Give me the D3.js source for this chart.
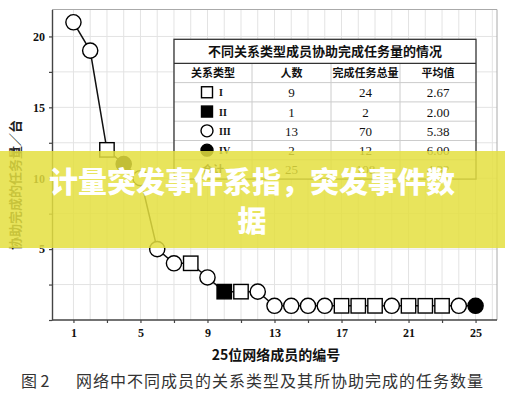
<!DOCTYPE html>
<html>
<head>
<meta charset="utf-8">
<script src="https://cdn.jsdelivr.net/npm/d3@7"></script>
<style>
  html, body { margin: 0; padding: 0; background: #fff; }
  svg { display: block; }
</style>
</head>
<body>
<div id="chart"></div>
<script>
// member ids and the number of tasks each one helped to finish
const memberIds = [1, 2, 3, 4, 5, 6, 7, 8, 9, 10, 11, 12, 13, 14, 15, 16, 17, 18, 19, 20, 21, 22, 23, 24, 25];
const taskCounts = [21, 19, 12, 11, 10, 5, 4, 4, 3, 2, 2, 2, 1, 1, 1, 1, 1, 1, 1, 1, 1, 1, 1, 1, 1];
const relationTypes = ["III", "III", "I", "IV", "III", "III", "III", "I", "III", "II", "I", "III", "III",
    "III", "III", "III", "I", "I", "I", "III", "I", "I", "I", "III", "IV"];

// summary table
const tableTitle = "不同关系类型成员协助完成任务量的情况";
const tableHeader = ["关系类型", "人数", "完成任务总量", "平均值"];
const typeLabels = ["I", "II", "III", "IV"];
const typeCounts = [9, 1, 13, 2];
const typeTotals = [24, 2, 70, 12];
const typeMeans = ["2.67", "2.00", "5.38", "6.00"];
const totalRow = ["合计", "25", "108", "4.32"];

const xTickLabels = [1, 5, 9, 13, 17, 21, 25];
const yTickLabels = [5, 10, 15, 20];

const width = 505;
const height = 400;

const svg = d3.select("#chart").append("svg")
    .attr("width", width)
    .attr("height", height);

const x = d3.scaleLinear().domain([-0.28, 26.28]).range([52, 497]);
const y = d3.scaleLinear().domain([0, 21.9]).range([320, 9.5]);

// grid
const grid = svg.append("g").attr("class", "grid");
grid.selectAll(".vg")
    .data(d3.range(1, 27))
    .enter().append("line")
    .attr("x1", d => x(d)).attr("x2", d => x(d))
    .attr("y1", y.range()[1]).attr("y2", y.range()[0])
    .attr("stroke", "#e3e3e3").attr("stroke-width", 1);
grid.selectAll(".hg")
    .data(d3.range(2.5, 21, 2.5))
    .enter().append("line")
    .attr("x1", x.range()[0]).attr("x2", x.range()[1])
    .attr("y1", d => y(d)).attr("y2", d => y(d))
    .attr("stroke", "#e3e3e3").attr("stroke-width", 1);

// frame (top / right lighter)
svg.append("line")
    .attr("x1", x.range()[0]).attr("x2", x.range()[1])
    .attr("y1", y.range()[1]).attr("y2", y.range()[1])
    .attr("stroke", "#aaa");
svg.append("line")
    .attr("x1", x.range()[1]).attr("x2", x.range()[1])
    .attr("y1", y.range()[1]).attr("y2", y.range()[0])
    .attr("stroke", "#aaa");

// axes
const xAxis = d3.axisBottom(x)
    .tickValues(d3.range(1, 26, 2))
    .tickFormat(d => xTickLabels.includes(d) ? d : "")
    .tickSize(3).tickSizeOuter(0).tickPadding(5);
const yAxis = d3.axisLeft(y)
    .tickValues(d3.range(0, 21, 2.5))
    .tickFormat(d => yTickLabels.includes(d) ? d : "")
    .tickSize(3).tickSizeOuter(0).tickPadding(4);

const gx = svg.append("g").attr("transform", `translate(0,${y.range()[0]})`).call(xAxis);
const gy = svg.append("g").attr("transform", `translate(${x.range()[0]},0)`).call(yAxis);
[gx, gy].forEach(g => {
    g.select(".domain").attr("stroke", "#444").attr("stroke-width", 1.4);
    g.selectAll(".tick line").attr("stroke", "#444").attr("stroke-width", 1.2);
    g.selectAll(".tick text")
        .attr("fill", "#111")
        .style("font-family", "'Liberation Serif', serif")
        .style("font-weight", "bold")
        .style("font-size", "12px");
});
gx.select(".domain").attr("d", `M${x.range()[0]},0H${x.range()[1]}`);

// axis titles
svg.append("text")
    .attr("x", 276).attr("y", 360)
    .attr("text-anchor", "middle")
    .style("font-family", "'Noto Sans CJK SC', sans-serif")
    .style("font-weight", "bold")
    .style("font-size", "14px")
    .attr("fill", "#111")
    .text("25位网络成员的编号");

svg.append("text")
    .attr("transform", "translate(20,185) rotate(-90)")
    .attr("text-anchor", "middle")
    .style("font-family", "'Noto Sans CJK SC', sans-serif")
    .style("font-weight", "bold")
    .style("font-size", "13px")
    .attr("fill", "#222")
    .text("协助完成的任务量／台");

// line
const points = memberIds.map((id, i) => ({ id: id, value: taskCounts[i], type: relationTypes[i] }));

svg.append("path")
    .datum(points)
    .attr("fill", "none")
    .attr("stroke", "#111")
    .attr("stroke-width", 1.5)
    .attr("d", d3.line().x(d => x(d.id)).y(d => y(d.value)));

function drawMarker(g, type, size) {
    const filled = type === "II" || type === "IV";
    const square = type === "I" || type === "II";
    if (square) {
        g.append("rect")
            .attr("x", -size).attr("y", -size)
            .attr("width", size * 2).attr("height", size * 2);
    } else {
        g.append("circle").attr("r", size);
    }
    g.selectAll("rect, circle")
        .attr("fill", filled ? "#000" : "#fff")
        .attr("stroke", "#000")
        .attr("stroke-width", 1.4);
}

svg.selectAll(".marker")
    .data(points)
    .enter().append("g")
    .attr("class", "marker")
    .attr("transform", d => `translate(${x(d.id)},${y(d.value)})`)
    .each(function(d) {
        drawMarker(d3.select(this), d.type, d.type === "I" || d.type === "II" ? 7.2 : 7.6);
    });

// table
const colX = [174, 252, 331, 400, 476];
const titleTop = 39.3;
const headTop = 63.3;
const rowH = 19.3;
const tableBottom = headTop + rowH * 6;
const tbl = svg.append("g").attr("class", "table");

tbl.append("rect")
    .attr("x", colX[0]).attr("y", titleTop)
    .attr("width", colX[4] - colX[0]).attr("height", tableBottom - titleTop)
    .attr("fill", "#fff");

// inner lines
for (let r = 1; r < 6; r++) {
    tbl.append("line")
        .attr("x1", colX[0]).attr("x2", colX[4])
        .attr("y1", headTop + rowH * r).attr("y2", headTop + rowH * r)
        .attr("stroke", "#ccc");
}
for (let c = 1; c < 4; c++) {
    tbl.append("line")
        .attr("x1", colX[c]).attr("x2", colX[c])
        .attr("y1", headTop).attr("y2", tableBottom)
        .attr("stroke", "#ccc");
}
tbl.append("line")
    .attr("x1", colX[0]).attr("x2", colX[4])
    .attr("y1", headTop).attr("y2", headTop)
    .attr("stroke", "#333").attr("stroke-width", 1.3);
tbl.append("rect")
    .attr("x", colX[0]).attr("y", titleTop)
    .attr("width", colX[4] - colX[0]).attr("height", tableBottom - titleTop)
    .attr("fill", "none").attr("stroke", "#333").attr("stroke-width", 1.3);

tbl.append("text")
    .attr("x", (colX[0] + colX[4]) / 2).attr("y", (titleTop + headTop) / 2 + 5)
    .attr("text-anchor", "middle")
    .style("font-family", "'Noto Sans CJK SC', sans-serif")
    .style("font-weight", "bold")
    .style("font-size", "13px")
    .attr("fill", "#111")
    .text(tableTitle);

const colMid = c => (colX[c] + colX[c + 1]) / 2;
const rowMid = r => headTop + rowH * r + rowH / 2;

tbl.selectAll(".th")
    .data(tableHeader)
    .enter().append("text")
    .attr("x", (d, i) => colMid(i)).attr("y", rowMid(0) + 4)
    .attr("text-anchor", "middle")
    .style("font-family", "'Noto Sans CJK SC', sans-serif")
    .style("font-weight", "bold")
    .style("font-size", "11px")
    .attr("fill", "#111")
    .text(d => d);

const numStyle = sel => sel
    .attr("text-anchor", "middle")
    .style("font-family", "'Liberation Serif', serif")
    .style("font-size", "13px")
    .attr("fill", "#111");

typeLabels.forEach((t, i) => {
    const cy = rowMid(i + 1);
    const mk = tbl.append("g").attr("transform", `translate(207,${cy})`);
    drawMarker(mk, t, t === "I" || t === "II" ? 5.5 : 6);
    tbl.append("text")
        .attr("x", 219).attr("y", cy + 4)
        .style("font-family", "'Liberation Serif', serif")
        .style("font-weight", "bold")
        .style("font-size", "10px")
        .attr("fill", "#111")
        .text(t);
    tbl.append("text").attr("x", colMid(1)).attr("y", cy + 5).call(numStyle).text(typeCounts[i]);
    tbl.append("text").attr("x", colMid(2)).attr("y", cy + 5).call(numStyle).text(typeTotals[i]);
    tbl.append("text").attr("x", colMid(3)).attr("y", cy + 5).call(numStyle).text(typeMeans[i]);
});

totalRow.forEach((v, c) => {
    const t = tbl.append("text").attr("x", colMid(c)).attr("y", rowMid(5) + 5).call(numStyle).text(v);
    if (c === 0) t.style("font-family", "'Noto Sans CJK SC', sans-serif").style("font-size", "11px").style("font-weight", "bold");
});

// caption
svg.append("text")
    .attr("x", 21).attr("y", 387)
    .style("font-family", "'Noto Sans CJK SC', sans-serif")
    .style("font-size", "16px")
    .attr("fill", "#333")
    .text("图 2");
svg.append("text")
    .attr("x", 76).attr("y", 387)
    .attr("textLength", 407)
    .style("font-family", "'Noto Sans CJK SC', sans-serif")
    .style("font-size", "16px")
    .attr("fill", "#333")
    .text("网络中不同成员的关系类型及其所协助完成的任务数量");

// overlay banner
svg.append("rect")
    .attr("x", 0).attr("y", 151)
    .attr("width", width).attr("height", 97)
    .attr("fill", "rgb(228,223,63)")
    .attr("fill-opacity", 0.85);

const bannerLines = ["计量突发事件系指，突发事件数", "据"];
svg.selectAll(".banner")
    .data(bannerLines)
    .enter().append("text")
    .attr("x", 252)
    .attr("y", (d, i) => 193 + i * 39)
    .attr("text-anchor", "middle")
    .style("font-family", "'Noto Sans CJK SC', sans-serif")
    .style("font-weight", "900")
    .style("font-size", "29px")
    .attr("fill", "#fff")
    .text(d => d);
</script>
</body>
</html>
